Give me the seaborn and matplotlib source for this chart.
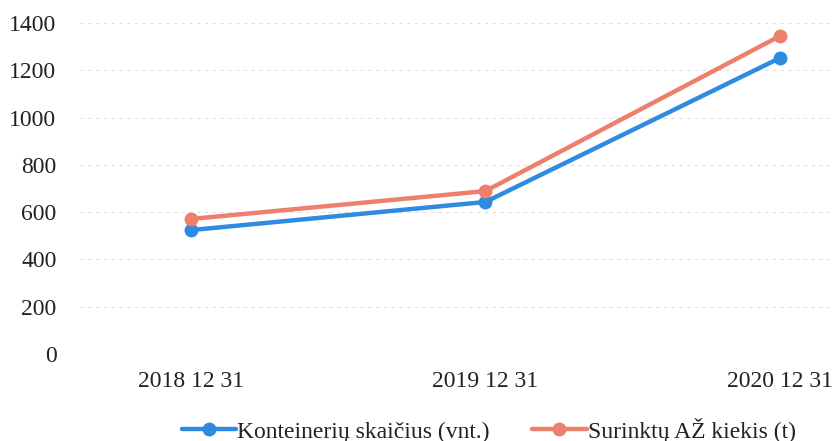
import matplotlib
matplotlib.use("Agg")
import matplotlib.pyplot as plt
import pandas as pd
import seaborn as sns

# duomenys
datos = ["2018 12 31", "2019 12 31", "2020 12 31"]
konteineriai = [524, 643, 1252]
surinkta = [571, 689, 1345]
serijos = ["Konteinerių skaičius (vnt.)", "Surinktų AŽ kiekis (t)"]
spalvos = ["#2e8be0", "#ee7f6c"]

sns.set_theme(style="white")
plt.rcParams["font.family"] = ["Liberation Serif", "DejaVu Serif"]

df = pd.DataFrame({
    "data": list(range(len(datos))) * 2,
    "reiksme": konteineriai + surinkta,
    "serija": [serijos[0]] * len(datos) + [serijos[1]] * len(datos),
})

fig = plt.figure(figsize=(8.37, 4.41), dpi=100)
ax = fig.add_axes([80 / 837, 1 - 354 / 441, 750 / 837, (354 - 23) / 441])

sns.lineplot(data=df, x="data", y="reiksme", hue="serija", palette=spalvos,
             marker="o", markersize=10, markeredgewidth=0, linewidth=3.2,
             ax=ax, legend=True)

ax.set_ylim(0, 1400)
ax.set_yticks(range(0, 1401, 200))
ax.set_xlim(-0.376, 2.17)
ax.set_xticks(range(len(datos)))
ax.set_xticklabels(datos)
ax.set_xlabel("")
ax.set_ylabel("")
ax.tick_params(axis="both", labelsize=17, colors="#222222", length=0)
ax.tick_params(axis="y", pad=17)
ax.tick_params(axis="x", pad=12)
ax.yaxis.grid(True, color="#dedede", linestyle=(0, (3, 4)), linewidth=0.8)
for s in ax.spines.values():
    s.set_visible(False)

leg = ax.legend(loc="center", bbox_to_anchor=(0.545, -0.23), ncol=2,
                frameon=False, fontsize=17, handlelength=2.3,
                handletextpad=0.05, columnspacing=1.8, labelcolor="#222222")

fig.savefig("out.png", dpi=100)
